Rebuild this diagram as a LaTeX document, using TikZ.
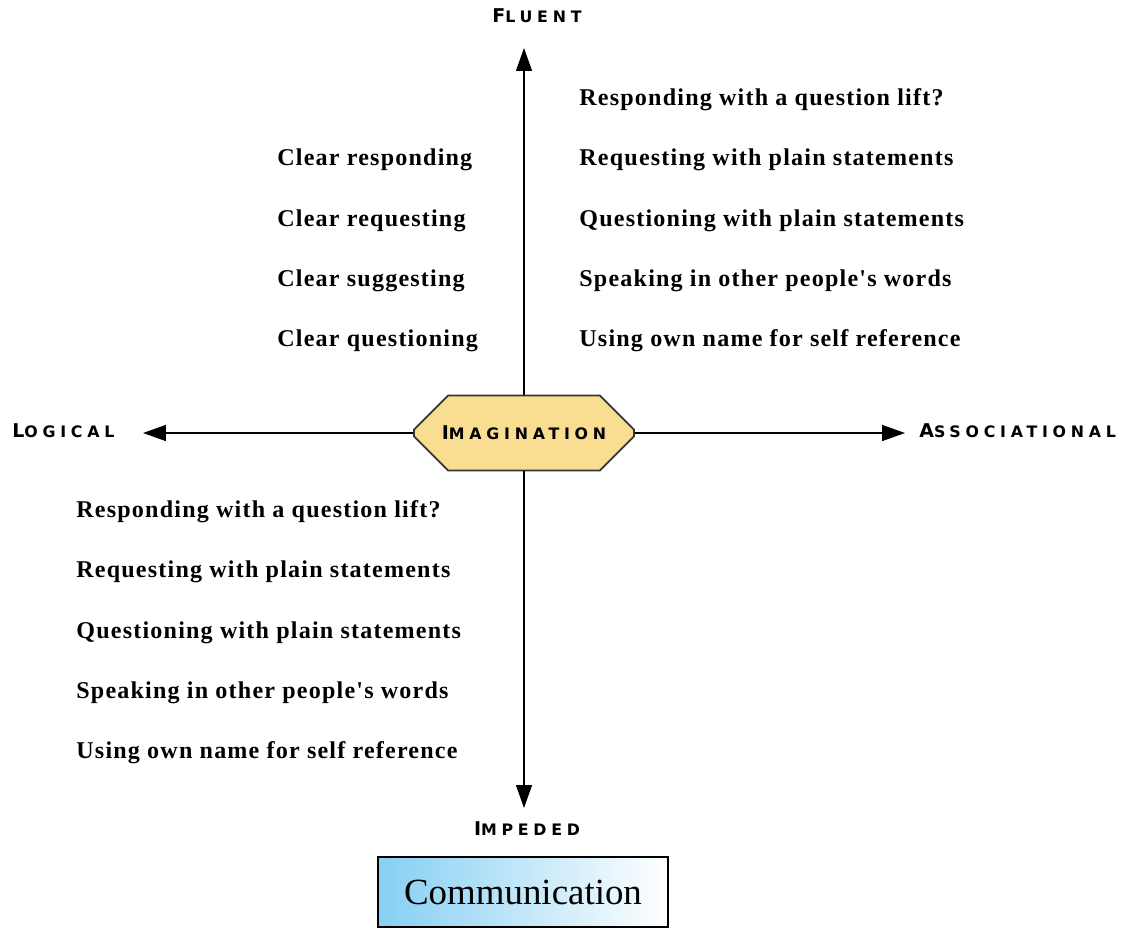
\documentclass[tikz,border=0pt]{standalone}
\usepackage{fontspec}
\setmainfont{Liberation Serif}
\newfontfamily\capfont[LetterSpace=30]{DejaVu Sans}
\newfontfamily\itemfont[LetterSpace=5]{Liberation Serif}
\usetikzlibrary{arrows.meta,shapes.misc}

\definecolor{imgfill}{HTML}{F9DE92}
\definecolor{imgline}{HTML}{333333}
\definecolor{commblue}{HTML}{86CFF3}

% axis label: big first letter, small caps after it
\newcommand{\axcap}[2]{{\capfont\bfseries\fontsize{10.8}{12}\selectfont #1\fontsize{9}{10}\selectfont #2}}

\begin{document}
\begin{tikzpicture}[x=0.02cm,y=-0.02cm,
  axis/.style={line width=1pt,-{Triangle[length=13pt,width=9pt]}},
  item/.style={anchor=base west,inner sep=0pt,font=\itemfont\bfseries\fontsize{13.7}{15}\selectfont},
  axlabel/.style={inner sep=0pt}]
\useasboundingbox (0,0) rectangle (1121,929);

% centre
\node[chamfered rectangle,chamfered rectangle xsep=0.54cm,chamfered rectangle ysep=0.54cm,
  draw=imgline,line width=1pt,fill=imgfill,minimum width=4.4cm,minimum height=1.5cm,inner sep=0pt]
  (img) at (524,433) {\axcap{I}{MAGINATION}};

% axis ends
\coordinate (up) at (524,48);
\coordinate (down) at (524,808);
\coordinate (left) at (143,433);
\coordinate (right) at (905,433);
\draw[axis] (img.north) -- (up);
\draw[axis] (img.south) -- (down);
\draw[axis] (img.west) -- (left);
\draw[axis] (img.east) -- (right);

\node[axlabel,anchor=base] (fluent) at (537,23) {\axcap{F}{LUENT}};
\node[axlabel,anchor=base] (impeded) at (527,835) {\axcap{I}{MPEDED}};
\node[axlabel,anchor=base west] (logical) at (12,437) {\axcap{L}{OGICAL}};
\node[axlabel,anchor=base west] (assoc) at (919,437) {\axcap{A}{SSOCIATIONAL}};

% upper left
\node[item] (ul1) at (277,166) {Clear responding};
\node[item] (ul2) at (277,226) {Clear requesting};
\node[item] (ul3) at (277,286) {Clear suggesting};
\node[item] (ul4) at (277,346) {Clear questioning};

% upper right
\node[item] (ur1) at (579,106) {Responding with a question lift?};
\node[item] (ur2) at (579,166) {Requesting with plain statements};
\node[item] (ur3) at (579,226) {Questioning with plain statements};
\node[item] (ur4) at (579,286) {Speaking in other people's words};
\node[item] (ur5) at (579,346) {Using own name for self reference};

% lower left
\node[item] (ll1) at (76,517) {Responding with a question lift?};
\node[item] (ll2) at (76,577) {Requesting with plain statements};
\node[item] (ll3) at (76,638) {Questioning with plain statements};
\node[item] (ll4) at (76,698) {Speaking in other people's words};
\node[item] (ll5) at (76,758) {Using own name for self reference};

% title box
\node[draw=black,line width=1.2pt,left color=commblue,right color=white,
  minimum width=5.8cm,minimum height=1.4cm,font=\fontsize{21}{24}\selectfont]
  (comm) at (523,892) {Communication};
\end{tikzpicture}
\end{document}
